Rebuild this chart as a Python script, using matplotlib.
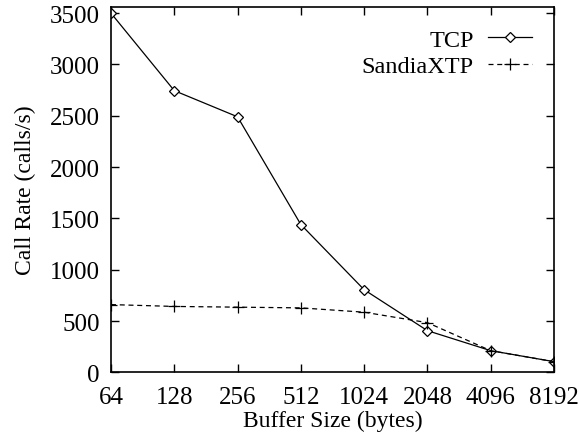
import matplotlib.pyplot as plt
import numpy as np

# data
buffer_sizes = [64, 128, 256, 512, 1024, 2048, 4096, 8192]
tcp_rate = [3500, 2745, 2490, 1440, 805, 406, 211, 104]
xtp_rate = [660, 642, 635, 628, 586, 484, 211, 104]

plt.rcParams['font.family'] = ['Liberation Serif', 'DejaVu Serif']

fig = plt.figure(figsize=(5.79, 4.35), dpi=100)
ax = fig.add_axes([0.1917, 0.1418, 0.7651, 0.8398])

ax.plot(buffer_sizes, tcp_rate, color='black', linestyle='-', linewidth=0.9,
        marker='D', markersize=5.5, markerfacecolor='white', markeredgecolor='black',
        markeredgewidth=0.9, label='TCP')
ax.plot(buffer_sizes, xtp_rate, color='black', linestyle=(0, (4, 3)), linewidth=0.9,
        marker='+', markersize=8, markeredgewidth=0.9, label='SandiaXTP')

ax.set_xscale('log', base=2)
ax.set_xlim(64, 8192)
ax.set_xticks(buffer_sizes)
ax.set_xticklabels([str(b) for b in buffer_sizes])
ax.minorticks_off()
ax.set_ylim(0, 3560)
ax.set_yticks(np.arange(0, 3501, 500))

ax.tick_params(direction='in', length=6, width=1, top=True, right=True,
               labelsize=18)
ax.tick_params(axis='x', pad=10)
ax.tick_params(axis='y', pad=8)
for s in ax.spines.values():
    s.set_linewidth(1.2)

ax.set_xlabel('Buffer Size (bytes)', fontsize=17, labelpad=1)
ax.set_ylabel('Call Rate (calls/s)', fontsize=17, labelpad=10)

ax.legend(loc='upper right', frameon=False, markerfirst=False, fontsize=17.5,
          handlelength=1.8, handletextpad=0.6, labelspacing=0.18,
          borderaxespad=0.3, borderpad=0.6, numpoints=1)

fig.savefig('out.png', dpi=100)
